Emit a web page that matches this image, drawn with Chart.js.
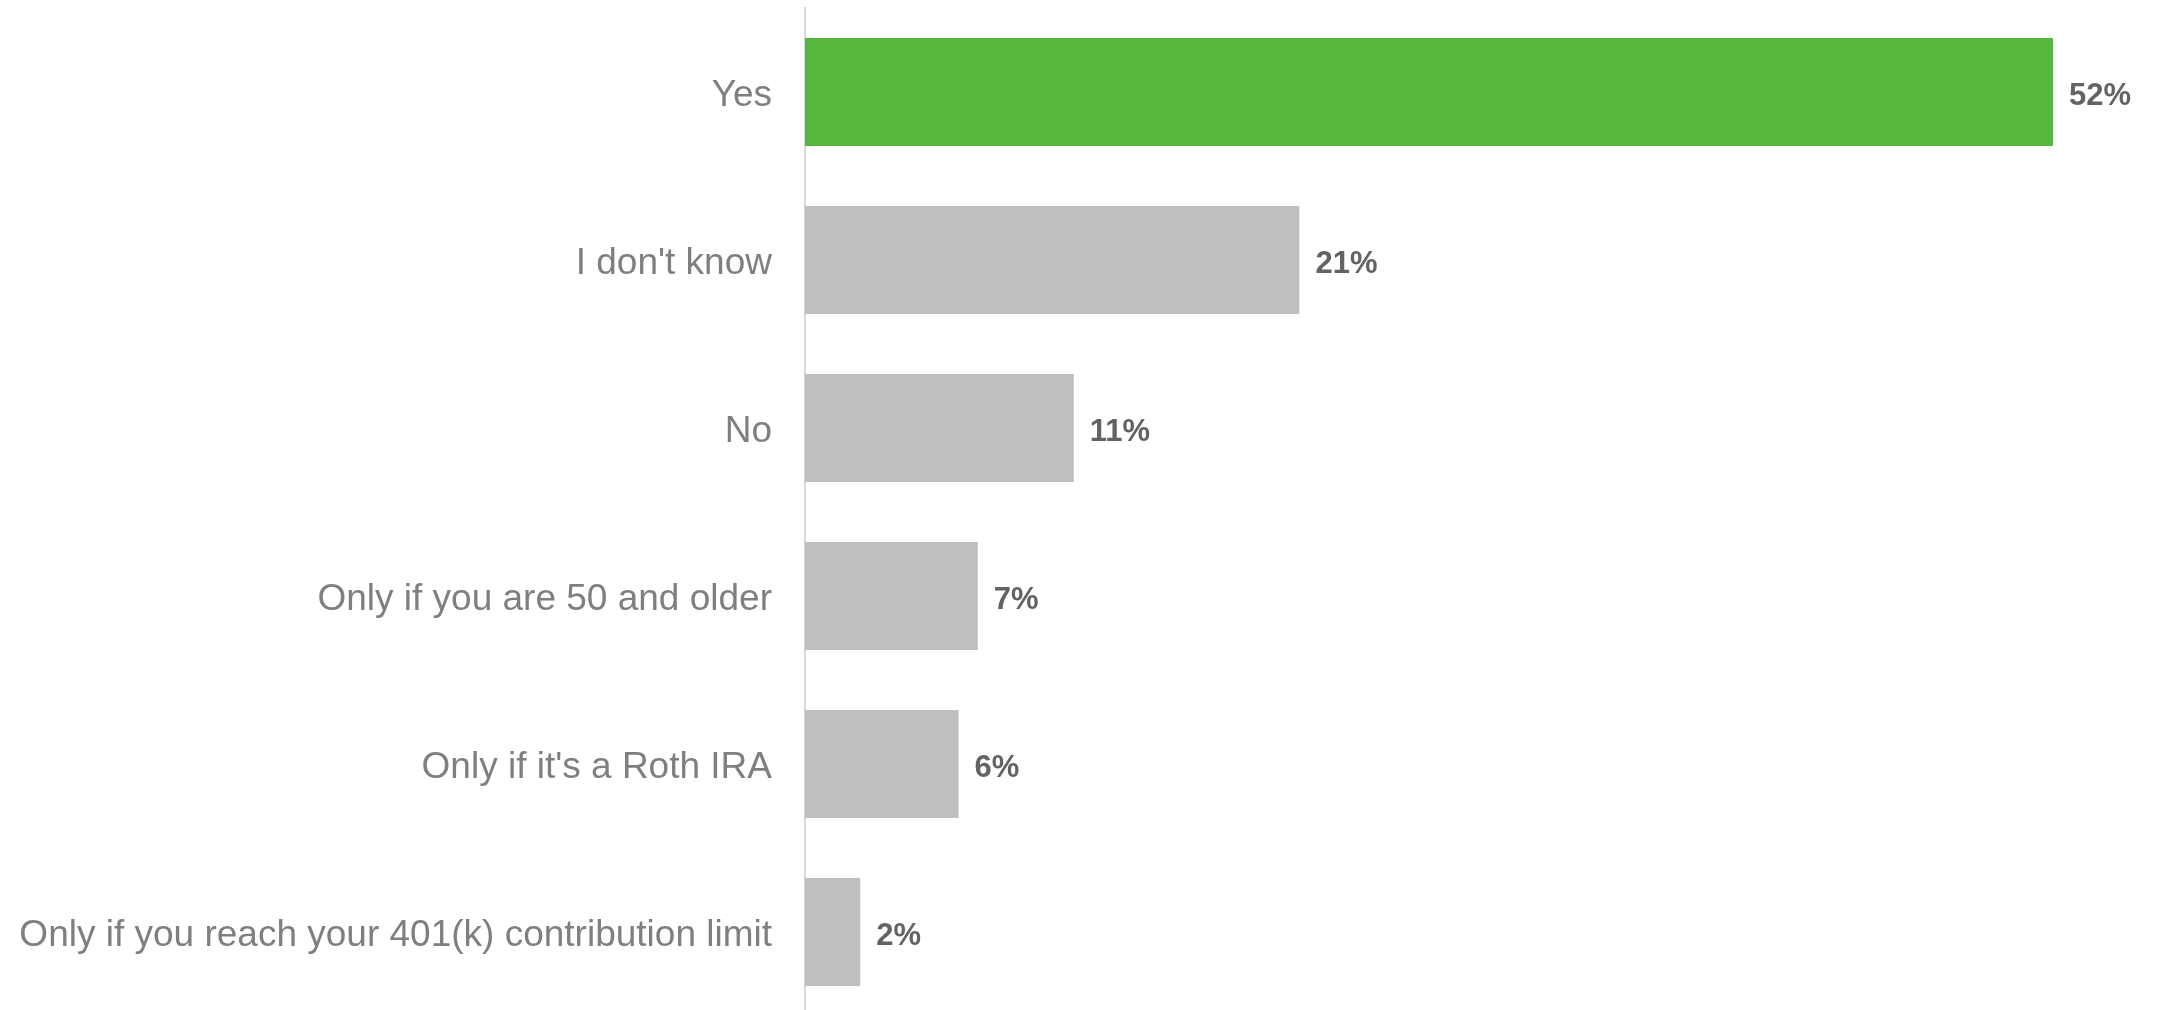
<!DOCTYPE html>
<html>
<head>
<meta charset="utf-8">
<script src="https://cdn.jsdelivr.net/npm/chart.js@4.4.1/dist/chart.umd.min.js"></script>
<style>
    html, body { margin: 0; padding: 0; background: #fff; overflow: hidden; }
    #wrap { width: 2159px; height: 1016px; }
</style>
</head>
<body>
<div id="wrap"><canvas id="chart" width="2159" height="1016"></canvas></div>
<script>
// Survey answers, top to bottom
const categories = [
    "Yes",
    "I don't know",
    "No",
    "Only if you are 50 and older",
    "Only if it's a Roth IRA",
    "Only if you reach your 401(k) contribution limit"
];
// Share of respondents (%)
const shares = [52, 20.6, 11.2, 7.2, 6.4, 2.3];
const barColors = ["#55b73d", "#bfbfbf", "#bfbfbf", "#bfbfbf", "#bfbfbf", "#bfbfbf"];

// Draws the bold percentage to the right of each bar
const valueLabels = {
    id: "valueLabels",
    afterDatasetsDraw(chart) {
        const ctx = chart.ctx;
        const meta = chart.getDatasetMeta(0);
        ctx.save();
        ctx.font = "bold 31px 'Liberation Sans', Arial, sans-serif";
        ctx.fillStyle = "#636363";
        ctx.textAlign = "left";
        ctx.textBaseline = "middle";
        meta.data.forEach((bar, i) => {
            const v = chart.data.datasets[0].data[i];
            ctx.fillText(Math.round(v) + "%", bar.x + 16, bar.y + 4);
        });
        ctx.restore();
    }
};

new Chart(document.getElementById("chart"), {
    type: "bar",
    data: {
        labels: categories,
        datasets: [{
            data: shares,
            backgroundColor: barColors,
            borderWidth: 0,
            categoryPercentage: 1,
            barPercentage: 0.644
        }]
    },
    options: {
        indexAxis: "y",
        responsive: false,
        animation: false,
        devicePixelRatio: 1,
        layout: { padding: { top: 8, right: 10, bottom: 0, left: 0 } },
        plugins: {
            legend: { display: false },
            tooltip: { enabled: false }
        },
        scales: {
            x: {
                display: false,
                min: 0,
                max: 56
            },
            y: {
                afterFit(scale) {
                    scale.width = 805;
                    scale.paddingTop = 0;
                    scale.paddingBottom = 0;
                },
                grid: { display: false, drawTicks: false },
                border: { display: true, color: "#d9d9d9", width: 2 },
                ticks: {
                    color: "#7f7f7f",
                    padding: 33,
                    labelOffset: 4,
                    font: { family: "'Liberation Sans', Arial, sans-serif", size: 37 }
                }
            }
        }
    },
    plugins: [valueLabels]
});
</script>
</body>
</html>
